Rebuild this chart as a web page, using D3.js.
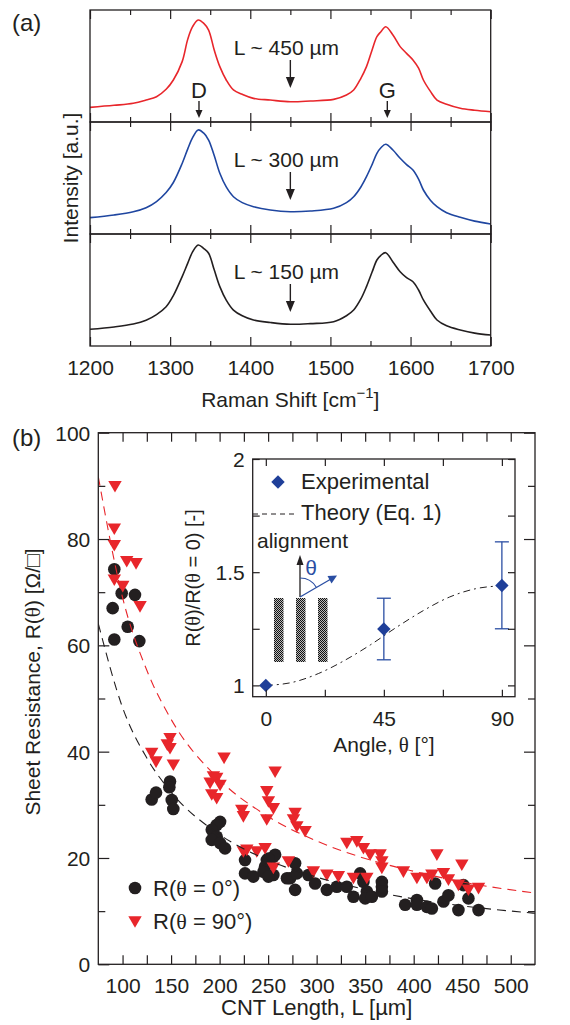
<!DOCTYPE html>
<html><head><meta charset="utf-8">
<script src="https://cdn.jsdelivr.net/npm/d3@7"></script>
<style>
body{margin:0;background:#fff}
svg{display:block}
text{font-family:"Liberation Sans",Arial,Helvetica,sans-serif;fill:#231f20}
</style>
</head><body>
<svg id="c" width="570" height="1025"></svg>
<script>
// ---------------- DATA ----------------
// Panel (a): Raman spectra (normalised intensity)
const ramanShift = [1200,1230,1254,1270,1283,1295,1304,1315,1322,1328,1335,1342,1348,1355,1362,1370,1379,1390,1404,1425,1450,1475,1504,1520,1529,1538,1545,1552,1558,1563,1569,1578,1587,1595,1603,1610,1616,1625,1633,1645,1662,1680,1700];
const intensity450 = [.131,.149,.167,.196,.226,.292,.375,.539,.74,.851,.911,.881,.821,.643,.494,.375,.286,.247,.211,.196,.181,.188,.202,.241,.286,.39,.494,.643,.762,.806,.851,.777,.673,.613,.554,.48,.375,.271,.196,.158,.122,.105,.092];
const intensity300 = [.146,.17,.199,.235,.29,.37,.46,.63,.76,.86,.929,.9,.839,.7,.542,.42,.333,.28,.244,.215,.199,.205,.229,.28,.333,.42,.512,.62,.72,.77,.801,.75,.676,.62,.571,.49,.393,.3,.244,.19,.149,.115,.089];
const intensity150 = [.149,.17,.196,.23,.28,.35,.45,.62,.74,.84,.902,.87,.828,.68,.53,.41,.321,.27,.232,.21,.194,.2,.217,.27,.321,.42,.53,.66,.768,.81,.833,.75,.663,.61,.574,.5,.411,.31,.232,.18,.143,.115,.098];
const spectraLabels = ["L ~ 450 µm","L ~ 300 µm","L ~ 150 µm"];
const ramanMajorTicks = [1200,1300,1400,1500,1600,1700];
const ramanMinorTicks = [1250,1350,1450,1550,1650];
const peakD = 1336, peakG = 1571, markShift = 1450;

// Panel (b): sheet resistance vs CNT length  [L (µm), R (Ω/□)]
const r0Points = [[91.5,74.3],[99.1,69.8],[112.8,69.5],[89.8,67.0],[105.3,63.5],[91.5,61.1],[117.3,60.8],
[130,31.0],[134.5,32.3],[148.9,34.4],[148.2,33.3],[150.7,30.9],[152.3,29.2],
[200.5,26.8],[197,26.2],[191.9,25.3],[197,24.0],[191.9,23.4],[200.5,22.8],[205.6,21.8],
[226.2,19.6],[226.2,17.1],[234.8,16.5],[246.9,18.4],[245.2,17.4],[255.4,20.2],[248.6,19.6],[255.4,16.8],[250.3,16.5],[257.2,20.6],[250.3,19.9],
[272.6,16.2],[277.8,19.0],[277.8,14.0],[291.5,16.8],[269.4,16.2],[279.6,17.1],[298.4,15.2],[310.5,14.0],[320.8,14.6],[331.1,14.6],[337.9,12.7],[344.8,17.1],[348.2,15.5],[351.7,13.7],[350,12.4],[356.9,12.7],[367.2,15.5],[367.2,14.6],[367.2,13.7],
[391.2,11.2],[403.3,12.1],[403.3,11.2],[413.6,10.8],[418.7,10.5],[422.1,15.2],[430.7,11.8],[435.8,13.0],[446.1,10.2],[451.3,14.9],[456.4,12.4],[466.8,10.2]];
const r90Points = [[92.2,90.2],[91.5,82.2],[91.5,79.1],[104.3,76.1],[113.9,75.7],[91.5,72.6],[100.2,71.4],[118,67.6],
[130,40.0],[134.5,38.4],[148.9,42.8],[146.1,41.6],[148.9,40.9],[152.3,37.8],
[204.6,39.1],[193.6,35.6],[197,35.3],[190.2,34.4],[200.5,34.0],[191.9,32.2],[197,31.5],
[222.8,29.3],[224.5,28.1],[257.2,36.5],[248.6,32.8],[250.3,30.9],[255.4,29.6],[248.6,27.5],
[277.8,28.7],[276.1,27.5],[279.6,26.2],[288.1,25.3],
[228,21.8],[238.3,21.5],[246.9,22.1],[255.4,18.4],[270.9,19.6],[224.5,21.5],
[296.6,17.7],[310.5,17.1],[322.4,16.8],[337.9,16.5],[351.7,16.5],
[331.1,23.1],[341.4,23.4],[348.2,22.1],[355.1,20.9],[365.4,20.9],[367.2,19.6],[367.2,18.4],
[389.4,17.7],[403.3,16.5],[413.6,16.5],[418.7,17.1],[423.9,20.9],[430.7,17.4],[435.8,16.2],[446.1,15.2],[449.6,19.0],[456.4,14.3],[466.8,14.6]];
const fitLength = [75,100,125,150,200,250,300,350,400,450,525];
const fitR0  = [64.1,48.3,38.8,32.4,24.4,19.6,16.4,14.1,12.3,11.0,9.6];
const fitR90 = [91.7,69.0,55.3,46.1,34.7,27.8,23.2,19.9,17.5,15.5,13.4];
const lengthTicks = [100,150,200,250,300,350,400,450,500];
const lengthMinorTicks = [125,175,225,275,325,375,425,475];
const resMajorTicks = [0,20,40,60,80,100];
const resMinorTicks = [10,30,50,70,90];

// Inset
const angleDeg = [0,45,90];
const ratioMean = [1.0,1.249,1.441];
const ratioLow  = [1.0,1.113,1.25];
const ratioHigh = [1.0,1.385,1.634];
const theoryAngle = [0,10,20,30,40,50,60,70,80,90];
const theoryRatio = [1.0,1.013,1.052,1.11,1.18,1.258,1.33,1.39,1.427,1.44];
const angleTicks = [0,45,90], angleMinorTicks = [22.5,67.5];
const ratioTicks = [1,1.5,2], ratioMinorTicks = [1.25,1.75];

// ---------------- DRAW ----------------
const INK = "#231f20";
const FS = 21;
const svg = d3.select("#c");
const defs = svg.append("defs");
const fmtPlain = d3.format("~g");

function axis(gen, tx, ty, values, size, labelled, fs) {
  const a = gen.tickValues(values).tickSize(-size).tickSizeOuter(0);
  if (!labelled) a.tickFormat(""); else a.tickFormat(fmtPlain);
  const g = svg.append("g").attr("transform", `translate(${tx},${ty})`).call(a);
  g.select(".domain").remove();
  g.selectAll("line").attr("stroke", INK).attr("stroke-width", 1.2);
  g.selectAll("text").attr("font-size", fs || FS).attr("font-family", '"Liberation Sans",Arial,sans-serif').attr("fill", INK);
  return g;
}
function frame(x0, y0, x1, y1, fill) {
  svg.append("rect").attr("x", x0).attr("y", y0).attr("width", x1 - x0).attr("height", y1 - y0)
    .attr("fill", fill || "none").attr("stroke", INK).attr("stroke-width", 1.3);
}
function arrowDown(x, y0, y1, w, h) {
  svg.append("line").attr("x1", x).attr("x2", x).attr("y1", y0).attr("y2", y1 - h + 1).attr("stroke", INK).attr("stroke-width", 1.4);
  svg.append("path").attr("d", `M${x - w / 2},${y1 - h}L${x + w / 2},${y1 - h}L${x},${y1}Z`).attr("fill", INK);
}

// ===== Panel (a) =====
const ax = d3.scaleLinear().domain([1200, 1700]).range([90, 490.7]);
const panelTop = [10, 122, 234], panelH = 112;
const spectra = [intensity450, intensity300, intensity150];
const specColors = ["#e8262b", "#1f46a0", "#231f20"];

spectra.forEach((vals, i) => {
  const top = panelTop[i], bot = top + panelH;
  const ay = d3.scaleLinear().domain([0, 1]).range([bot, top]);
  const line = d3.line().x((d, j) => ax(ramanShift[j])).y(d => ay(d)).curve(d3.curveCatmullRom.alpha(0.5));
  svg.append("path").datum(vals).attr("d", line).attr("fill", "none").attr("stroke", specColors[i]).attr("stroke-width", 1.6);
  axis(d3.axisBottom(ax), 0, bot, ramanMajorTicks, 9, false);
  axis(d3.axisBottom(ax), 0, bot, ramanMinorTicks, 5, false);
  axis(d3.axisTop(ax), 0, top, ramanMajorTicks, 9, false);
  axis(d3.axisTop(ax), 0, top, ramanMinorTicks, 5, false);
  frame(90, top, 490.7, bot);
  svg.append("text").attr("x", ax(markShift) - 4).attr("y", top + 45).attr("text-anchor", "middle")
    .attr("font-size", FS).text(spectraLabels[i]);
  arrowDown(ax(markShift), top + 50, top + 78, 9, 11);
});
const axLab = axis(d3.axisBottom(ax), 0, 346, ramanMajorTicks, 0, true);
axLab.selectAll("line").remove();
axLab.selectAll("text").attr("y", 29).attr("dy", 0);
[[peakD, "D"], [peakG, "G"]].forEach(([s, t]) => {
  svg.append("text").attr("x", ax(s)).attr("y", 98).attr("text-anchor", "middle").attr("font-size", 22).text(t);
  arrowDown(ax(s), 101, 118, 7, 8);
});
const rt = svg.append("text").attr("x", 290.3).attr("y", 407).attr("text-anchor", "middle").attr("font-size", FS);
rt.append("tspan").text("Raman Shift [cm");
rt.append("tspan").attr("font-size", 15).attr("dy", -9).text("−1");
rt.append("tspan").attr("dy", 9).text("]");
svg.append("text").attr("transform", "translate(78,178) rotate(-90)").attr("text-anchor", "middle").attr("font-size", FS).text("Intensity [a.u.]");
svg.append("text").attr("x", 12).attr("y", 31).attr("font-size", 24).text("(a)");

// ===== Panel (b) =====
const bx = d3.scaleLinear().domain([75, 525]).range([98.3, 535]);
const by = d3.scaleLinear().domain([0, 100]).range([964.3, 432.7]);
const X0 = 98.3, X1 = 535, Y0 = 432.7, Y1 = 964.3;

const clip = defs.append("clipPath").attr("id", "pb");
clip.append("rect").attr("x", X0).attr("y", Y0).attr("width", X1 - X0).attr("height", Y1 - Y0);

const plot = svg.append("g").attr("clip-path", "url(#pb)");
const circ = d3.symbol(d3.symbolCircle).size(Math.PI * 6.3 * 6.3);
const tri = d3.symbol(d3.symbolTriangle).size(78);
plot.selectAll(".c0").data(r0Points).join("path").attr("d", circ)
  .attr("transform", d => `translate(${bx(d[0])},${by(d[1])})`).attr("fill", INK);
plot.selectAll(".c90").data(r90Points).join("path").attr("d", tri)
  .attr("transform", d => `translate(${bx(d[0])},${by(d[1])}) rotate(180)`).attr("fill", "#e8262b");
const fitLine = vals => d3.line().x((d, j) => bx(fitLength[j])).y(d => by(d)).curve(d3.curveMonotoneX)(vals);
plot.append("path").attr("d", fitLine(fitR0)).attr("fill", "none").attr("stroke", INK).attr("stroke-width", 1.1).attr("stroke-dasharray", "9,6");
plot.append("path").attr("d", fitLine(fitR90)).attr("fill", "none").attr("stroke", "#e8262b").attr("stroke-width", 1.1).attr("stroke-dasharray", "9,6");

axis(d3.axisBottom(bx), 0, Y1, lengthTicks.concat(lengthMinorTicks), 9, false);
axis(d3.axisTop(bx), 0, Y0, lengthTicks.concat(lengthMinorTicks), 9, false);
axis(d3.axisLeft(by), X0, 0, resMajorTicks, 11, false);
axis(d3.axisLeft(by), X0, 0, resMinorTicks, 7, false);
axis(d3.axisRight(by), X1, 0, resMajorTicks, 11, false);
axis(d3.axisRight(by), X1, 0, resMinorTicks, 7, false);
frame(X0, Y0, X1, Y1);
const bxl = axis(d3.axisBottom(bx), 0, Y1, lengthTicks, 0, true);
bxl.selectAll("line").remove();
bxl.selectAll("text").attr("y", 29).attr("dy", 0);
const byl = axis(d3.axisLeft(by), X0, 0, resMajorTicks, 0, true);
byl.selectAll("line").remove();
byl.selectAll("text").attr("x", -8).attr("dy", "0.35em");

svg.append("text").attr("x", 316.7).attr("y", 1015).attr("text-anchor", "middle").attr("font-size", 22)
  .text("CNT Length, L [µm]");
const yl = svg.append("text").attr("transform", "translate(40,682) rotate(-90)").attr("text-anchor", "middle").attr("font-size", FS);
yl.append("tspan").text("Sheet Resistance, R(");
yl.append("tspan").attr("font-family", '"Liberation Serif",serif').text("θ");
yl.append("tspan").text(") [Ω/□]");
svg.append("text").attr("x", 12).attr("y", 446).attr("font-size", 24).text("(b)");

function thetaText(x, y, parts, fs) {
  const t = svg.append("text").attr("x", x).attr("y", y).attr("font-size", fs);
  parts.forEach(p => {
    const s = t.append("tspan").text(p.t);
    if (p.serif) s.attr("font-family", '"Liberation Serif",serif');
  });
  return t;
}
svg.append("path").attr("d", circ).attr("transform", `translate(135,888)`).attr("fill", INK);
thetaText(153, 896, [{t: "R("}, {t: "θ", serif: true}, {t: " = 0°)"}], 22);
svg.append("path").attr("d", tri).attr("transform", `translate(135,920) rotate(180)`).attr("fill", "#e8262b");
thetaText(153, 929, [{t: "R("}, {t: "θ", serif: true}, {t: " = 90°)"}], 22);

// ===== Inset =====
const ix = d3.scaleLinear().domain([-5, 95]).range([252.7, 515]);
const iy = d3.scaleLinear().domain([0.95, 2]).range([696.7, 459]);
const IX0 = 252.7, IX1 = 515, IY0 = 459, IY1 = 696.7;
svg.append("rect").attr("x", IX0).attr("y", IY0).attr("width", IX1 - IX0).attr("height", IY1 - IY0).attr("fill", "#fff");

const pat = defs.append("pattern").attr("id", "hatch").attr("width", 2).attr("height", 2).attr("patternUnits", "userSpaceOnUse");
pat.append("rect").attr("width", 2).attr("height", 2).attr("fill", "#bbb");
pat.append("rect").attr("width", 1).attr("height", 1).attr("fill", "#111");
pat.append("rect").attr("x", 1).attr("y", 1).attr("width", 1).attr("height", 1).attr("fill", "#111");
[274, 296, 318].forEach(x => {
  svg.append("rect").attr("x", x).attr("y", 598).attr("width", 9.5).attr("height", 64).attr("fill", "url(#hatch)");
});
svg.append("line").attr("x1", 300).attr("x2", 300).attr("y1", 597).attr("y2", 562).attr("stroke", INK).attr("stroke-width", 1.3);
svg.append("path").attr("d", "M296.5,565L303.5,565L300,555Z").attr("fill", INK);
const BL = "#2a4ea3";
svg.append("line").attr("x1", 300).attr("y1", 597).attr("x2", 331).attr("y2", 579).attr("stroke", BL).attr("stroke-width", 1.3);
svg.append("path").attr("d", "M337,575.5L327.5,576L331.5,583.5Z").attr("fill", BL);
svg.append("path").attr("d", d3.arc()({innerRadius: 19, outerRadius: 19, startAngle: 0, endAngle: Math.PI / 3}))
  .attr("transform", "translate(300,597)").attr("fill", "none").attr("stroke", BL).attr("stroke-width", 1.2);
svg.append("text").attr("x", 311).attr("y", 575).attr("text-anchor", "middle").attr("font-size", 21)
  .attr("font-family", '"Liberation Serif",serif').style("fill", BL).text("θ");
svg.append("text").attr("x", 257).attr("y", 548).attr("font-size", 21).text("alignment");

svg.append("path").attr("d", d3.line().x((d, j) => ix(theoryAngle[j])).y(d => iy(d)).curve(d3.curveMonotoneX)(theoryRatio))
  .attr("fill", "none").attr("stroke", INK).attr("stroke-width", 1).attr("stroke-dasharray", "7,4,2,4");
angleDeg.forEach((a, i) => {
  if (ratioHigh[i] === ratioLow[i]) return;
  const x = ix(a);
  svg.append("line").attr("x1", x).attr("x2", x).attr("y1", iy(ratioLow[i])).attr("y2", iy(ratioHigh[i])).attr("stroke", BL).attr("stroke-width", 1.3);
  [ratioLow[i], ratioHigh[i]].forEach(v => svg.append("line").attr("x1", x - 7).attr("x2", x + 7).attr("y1", iy(v)).attr("y2", iy(v)).attr("stroke", BL).attr("stroke-width", 1.3));
});
const dia = d3.symbol(d3.symbolSquare).size(90);
svg.selectAll(".dia").data(angleDeg).join("path").attr("d", dia)
  .attr("transform", (d, i) => `translate(${ix(d)},${iy(ratioMean[i])}) rotate(45)`).attr("fill", "#1f3f99");

axis(d3.axisBottom(ix), 0, IY1, angleTicks.concat(angleMinorTicks), 7, false);
axis(d3.axisTop(ix), 0, IY0, angleTicks.concat(angleMinorTicks), 7, false);
axis(d3.axisLeft(iy), IX0, 0, ratioTicks.concat(ratioMinorTicks), 7, false);
axis(d3.axisRight(iy), IX1, 0, ratioTicks.concat(ratioMinorTicks), 7, false);
frame(IX0, IY0, IX1, IY1);
const ixl = axis(d3.axisBottom(ix), 0, IY1, angleTicks, 0, true);
ixl.selectAll("line").remove();
ixl.selectAll("text").attr("y", 29).attr("dy", 0);
const iyl = axis(d3.axisLeft(iy), IX0, 0, ratioTicks, 0, true);
iyl.selectAll("line").remove();
iyl.selectAll("text").attr("x", -8).attr("dy", "0.35em");

thetaText(384, 752, [{t: "Angle, "}, {t: "θ", serif: true}, {t: " [°]"}], FS).attr("text-anchor", "middle");
const iyt = svg.append("text").attr("transform", "translate(200,578) rotate(-90)").attr("text-anchor", "middle").attr("font-size", 20);
iyt.append("tspan").text("R(");
iyt.append("tspan").attr("font-family", '"Liberation Serif",serif').text("θ");
iyt.append("tspan").text(")/R(");
iyt.append("tspan").attr("font-family", '"Liberation Serif",serif').text("θ");
iyt.append("tspan").text(" = 0) [-]");

svg.append("path").attr("d", dia).attr("transform", "translate(278,482) rotate(45)").attr("fill", "#1f3f99");
svg.append("text").attr("x", 301).attr("y", 489).attr("font-size", 22).text("Experimental");
svg.append("line").attr("x1", 253).attr("x2", 296).attr("y1", 514).attr("y2", 514).attr("stroke", INK).attr("stroke-width", 1).attr("stroke-dasharray", "5,4");
svg.append("text").attr("x", 301).attr("y", 520).attr("font-size", 22).text("Theory (Eq. 1)");
</script>
</body></html>
